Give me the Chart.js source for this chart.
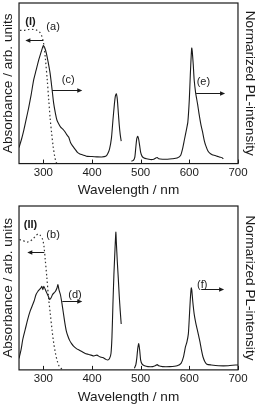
<!DOCTYPE html>
<html>
<head>
<meta charset="utf-8">
<script src="https://cdn.jsdelivr.net/npm/chart.js@4"></script>
<style>
  html, body { margin: 0; padding: 0; background: #fff; }
  .wrap { position: absolute; left: 0; width: 260px; }
  #w1 { top: 0; height: 200px; }
  #w2 { top: 200px; height: 205px; }
</style>
</head>
<body>
<div class="wrap" id="w1"><canvas id="c1"></canvas></div>
<div class="wrap" id="w2"><canvas id="c2"></canvas></div>
<script>
// x tick labels
const wlTicks = [300, 400, 500, 600, 700];

// panel (I): absorbance (a)
const absIWl  = [252, 260, 270, 280, 287, 292, 296, 299, 301, 304, 308, 311, 314, 317, 320, 323, 326, 328];
const absIVal = [0.83, 0.83, 0.835, 0.835, 0.83, 0.82, 0.80, 0.77, 0.74, 0.66, 0.52, 0.40, 0.28, 0.19, 0.11, 0.05, 0.01, 0.0];

// panel (I): PL excitation (c), 250-460 nm
const excIWl  = [250, 255, 260, 265, 270, 275, 280, 285, 290, 294, 297, 300, 303, 306, 310, 314, 318, 321, 325, 328,
                 332, 336, 340, 344, 348, 352, 356, 360, 365, 370, 375, 380, 385, 390, 400, 410, 420, 428, 432, 436,
                 440, 443, 446, 448, 450, 452, 454, 456, 458, 460];
const excIVal = [0.10, 0.15, 0.21, 0.28, 0.35, 0.43, 0.52, 0.58, 0.64, 0.68, 0.71, 0.735, 0.72, 0.69, 0.63, 0.56, 0.46, 0.38, 0.31, 0.27,
                 0.245, 0.225, 0.215, 0.20, 0.18, 0.165, 0.13, 0.11, 0.09, 0.07, 0.06, 0.055, 0.05, 0.045, 0.044, 0.042, 0.041, 0.045, 0.06, 0.09,
                 0.16, 0.27, 0.37, 0.42, 0.435, 0.40, 0.32, 0.24, 0.18, 0.14];

// panel (I): PL emission (e), 480-670 nm
const emIWl  = [481, 485, 488, 490, 492, 494, 496, 498, 500, 503, 507, 512, 520, 527, 531, 534, 537, 545, 555, 565,
                575, 582, 586, 590, 594, 597, 600, 602, 604, 605, 606, 608, 610, 613, 617, 620, 624, 627, 631, 634,
                638, 642, 647, 653, 658, 663, 668, 670];
const emIVal = [0.015, 0.02, 0.04, 0.10, 0.155, 0.17, 0.15, 0.11, 0.07, 0.045, 0.035, 0.03, 0.025, 0.027, 0.035, 0.038, 0.03, 0.027, 0.027, 0.03,
                0.035, 0.05, 0.09, 0.15, 0.21, 0.26, 0.40, 0.55, 0.68, 0.72, 0.70, 0.62, 0.52, 0.44, 0.37, 0.31, 0.24, 0.20, 0.14, 0.11,
                0.08, 0.065, 0.055, 0.05, 0.045, 0.04, 0.035, 0.03];

// panel (II): absorbance (b)
const absIIWl  = [251, 258, 265, 272, 279, 285, 290, 294, 298, 301, 304, 307, 311, 314, 318, 321, 325, 329, 333, 338];
const absIIVal = [0.795, 0.79, 0.78, 0.785, 0.80, 0.82, 0.83, 0.82, 0.80, 0.76, 0.67, 0.57, 0.43, 0.35, 0.24, 0.17, 0.10, 0.05, 0.02, 0.005];

// panel (II): PL excitation (d), 250-460 nm
const excIIWl  = [250, 254, 258, 263, 268, 273, 277, 281, 285, 289, 292, 295, 297, 299, 301, 304, 307, 310, 313, 316,
                  319, 322, 325, 328, 330, 332, 335, 338, 341, 344, 347, 350, 354, 358, 362, 368, 374, 380, 386, 392,
                  398, 404, 410, 416, 422, 428, 432, 436, 439, 441, 443, 445, 447, 449, 450, 452, 454, 456, 458, 460];
const excIIVal = [0.07, 0.12, 0.19, 0.25, 0.31, 0.36, 0.39, 0.42, 0.46, 0.48, 0.49, 0.50, 0.51, 0.49, 0.51, 0.49, 0.47, 0.45, 0.43, 0.44,
                  0.46, 0.47, 0.48, 0.50, 0.52, 0.49, 0.46, 0.41, 0.35, 0.29, 0.24, 0.21, 0.18, 0.16, 0.145, 0.13, 0.12, 0.11, 0.10, 0.095,
                  0.09, 0.085, 0.09, 0.08, 0.075, 0.065, 0.06, 0.07, 0.10, 0.20, 0.40, 0.58, 0.72, 0.84, 0.78, 0.66, 0.56, 0.45, 0.36, 0.28];

// panel (II): PL emission (f), 487-700 nm
const emIIWl  = [487, 490, 492, 494, 496, 498, 500, 503, 508, 515, 525, 530, 534, 537, 545, 560, 575, 583, 588, 592,
                 595, 598, 600, 602, 604, 605, 607, 610, 613, 616, 619, 622, 625, 628, 632, 636, 645, 660, 680, 695, 700];
const emIIVal = [0.01, 0.03, 0.07, 0.13, 0.16, 0.12, 0.06, 0.035, 0.025, 0.02, 0.02, 0.025, 0.032, 0.025, 0.02, 0.02, 0.025, 0.04, 0.08, 0.14,
                 0.17, 0.22, 0.32, 0.43, 0.50, 0.49, 0.42, 0.34, 0.29, 0.25, 0.21, 0.17, 0.12, 0.08, 0.05, 0.035, 0.03, 0.025, 0.025, 0.03, 0.03];

const FONT = '"Liberation Sans", Arial, sans-serif';
const INK = '#1a1a1a';

function pts(xs, ys) { return xs.map((x, i) => ({ x: x, y: ys[i] })); }

// box + inward ticks + labels/arrows (label spots in data units)
const decor = {
    id: 'decor',
    afterDraw(chart) {
        const { ctx, chartArea: a, scales: { x, y } } = chart;
        ctx.save();
        ctx.strokeStyle = INK;
        ctx.lineWidth = 1.2;
        ctx.strokeRect(a.left, a.top, a.right - a.left, a.bottom - a.top);
        ctx.lineWidth = 1;
        wlTicks.forEach(t => {
            const px = Math.round(x.getPixelForValue(t)) + 0.5;
            ctx.beginPath(); ctx.moveTo(px, a.bottom); ctx.lineTo(px, a.bottom - 4); ctx.stroke();
        });
        const notes = chart.options.plugins.decor.notes;
        ctx.fillStyle = INK;
        ctx.textAlign = 'center';
        ctx.textBaseline = 'middle';
        notes.labels.forEach(l => {
            ctx.font = (l.bold ? 'bold ' : '') + '11px ' + FONT;
            ctx.fillText(l.text, x.getPixelForValue(l.x), y.getPixelForValue(l.y));
        });
        notes.arrows.forEach(ar => {
            const x0 = x.getPixelForValue(ar.from), x1 = x.getPixelForValue(ar.to);
            const py = Math.round(y.getPixelForValue(ar.y)) + 0.5;
            const dir = Math.sign(x1 - x0);
            ctx.beginPath(); ctx.moveTo(x0, py); ctx.lineTo(x1 - dir * 3, py); ctx.stroke();
            ctx.beginPath();
            ctx.moveTo(x1, py); ctx.lineTo(x1 - dir * 5, py - 2.2); ctx.lineTo(x1 - dir * 5, py + 2.2);
            ctx.closePath(); ctx.fill();
        });
        ctx.restore();
    }
};

function makeChart(id, abs, exc, em, notes, padTop, padBottom) {
    const solid = { borderColor: INK, borderWidth: 1.1, pointRadius: 0, fill: false, tension: 0.2, yAxisID: 'y2' };
    const titleFont = { family: FONT, size: 13.6 };
    return new Chart(document.getElementById(id), {
        type: 'line',
        data: {
            datasets: [
                { data: abs, borderColor: '#333', borderWidth: 1.2, borderDash: [1.5, 2.5], pointRadius: 0, fill: false, tension: 0.3, yAxisID: 'y' },
                Object.assign({ data: exc }, solid),
                Object.assign({ data: em }, solid)
            ]
        },
        options: {
            responsive: true,
            maintainAspectRatio: false,
            animation: false,
            layout: { padding: { top: padTop, left: 0, right: 2, bottom: padBottom } },
            plugins: { legend: { display: false }, tooltip: { enabled: false }, decor: { notes: notes } },
            scales: {
                x: {
                    type: 'linear', min: 250, max: 700,
                    afterBuildTicks: s => { s.ticks = wlTicks.map(v => ({ value: v })); },
                    grid: { display: false, drawTicks: false },
                    border: { display: false },
                    ticks: { color: INK, padding: 2, maxRotation: 0, font: { family: FONT, size: 11.5 } },
                    title: { display: true, text: 'Wavelength / nm', color: INK, padding: { top: 1, bottom: 0 }, font: titleFont }
                },
                y: {
                    position: 'left', min: 0, max: 1,
                    grid: { display: false, drawTicks: false }, border: { display: false },
                    ticks: { display: false },
                    title: { display: true, text: 'Absorbance / arb. units', color: INK, padding: { top: 0, bottom: 2.7 }, font: titleFont }
                },
                y2: {
                    position: 'right', min: 0, max: 1,
                    grid: { display: false, drawTicks: false }, border: { display: false },
                    ticks: { display: false },
                    title: { display: true, text: 'Normarized PL-intensity', color: INK, padding: { top: 0, bottom: 3.7 }, font: titleFont }
                }
            }
        },
        plugins: [decor]
    });
}

makeChart('c1', pts(absIWl, absIVal), pts(excIWl, excIVal), pts(emIWl, emIVal), {
    labels: [
        { text: '(I)', x: 273.5, y: 0.88, bold: true },
        { text: '(a)', x: 320, y: 0.85 },
        { text: '(c)', x: 351, y: 0.52 },
        { text: '(e)', x: 629, y: 0.51 }
    ],
    arrows: [
        { from: 300, to: 263, y: 0.77 },
        { from: 318, to: 380, y: 0.457 },
        { from: 614, to: 673.5, y: 0.44 }
    ]
}, 3, 1.3);

makeChart('c2', pts(absIIWl, absIIVal), pts(excIIWl, excIIVal), pts(emIIWl, emIIVal), {
    labels: [
        { text: '(II)', x: 273.5, y: 0.886, bold: true },
        { text: '(b)', x: 320, y: 0.825 },
        { text: '(d)', x: 365, y: 0.46 },
        { text: '(f)', x: 626.5, y: 0.52 }
    ],
    arrows: [
        { from: 302, to: 267, y: 0.717 },
        { from: 339, to: 380, y: 0.42 },
        { from: 624.5, to: 671.5, y: 0.494 }
    ]
}, 6, 0);
</script>
</body>
</html>
